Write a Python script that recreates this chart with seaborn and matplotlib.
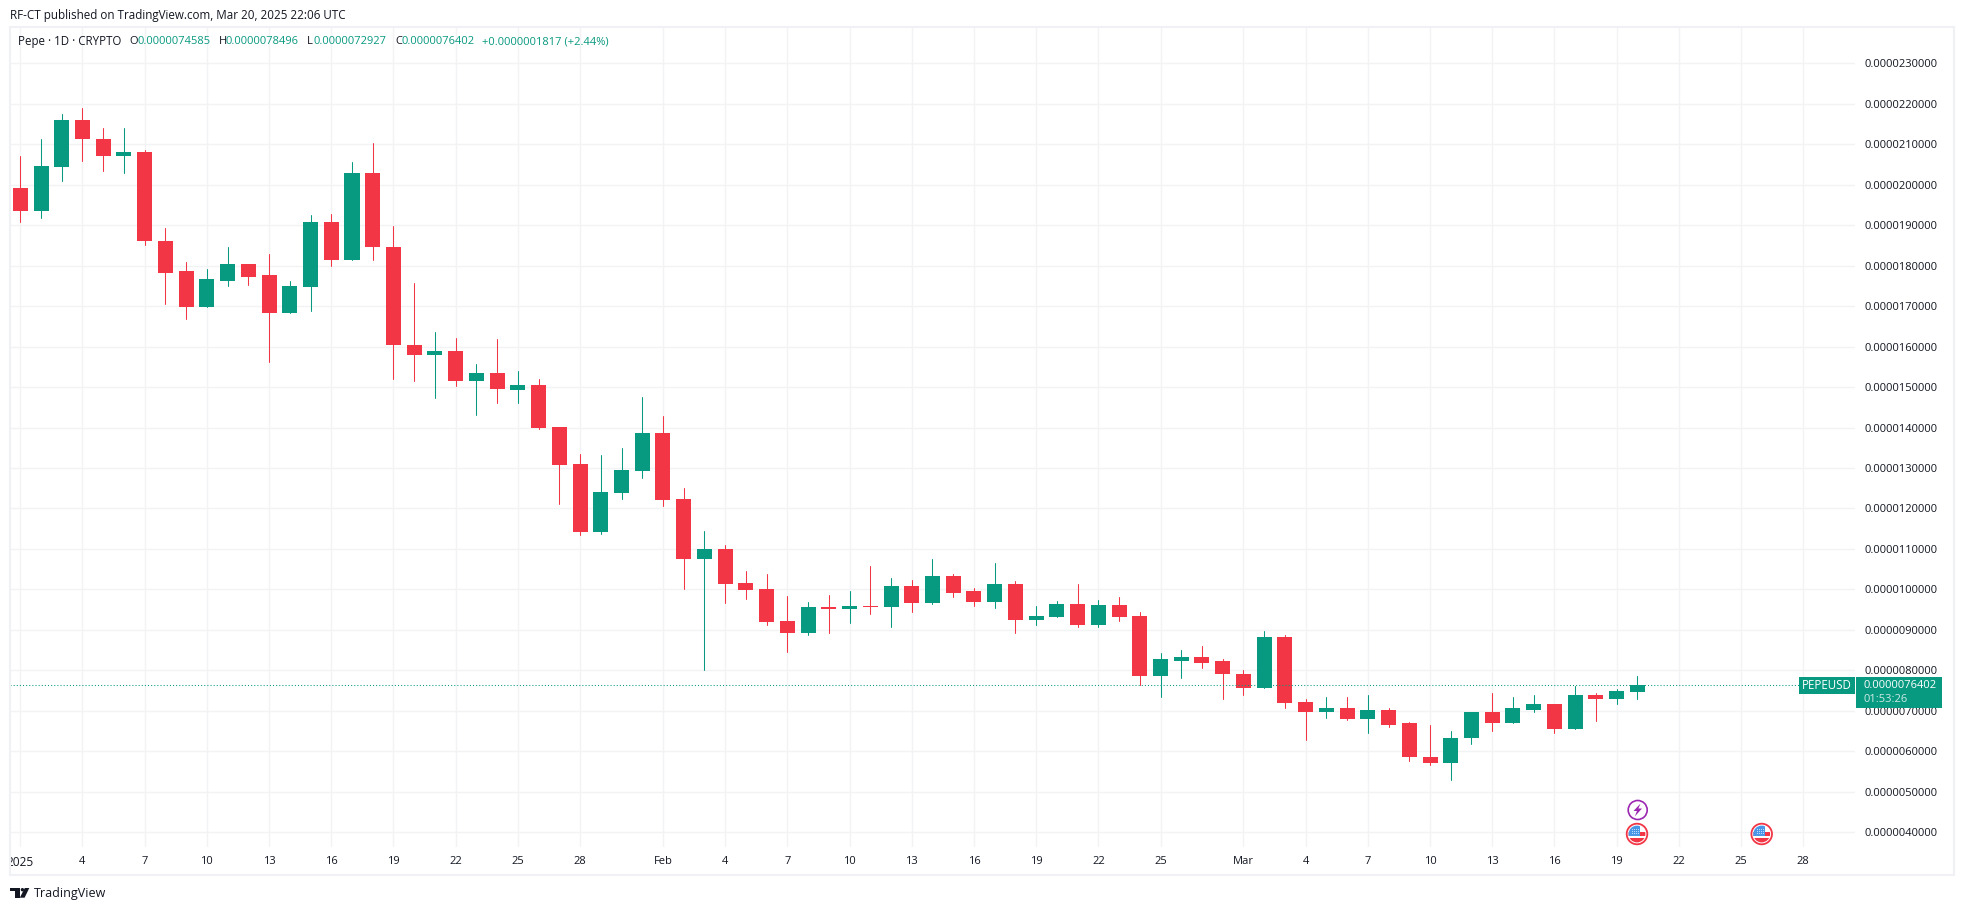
import numpy as np
import pandas as pd
import seaborn as sns
import matplotlib
matplotlib.use("Agg")
import matplotlib.pyplot as plt
from matplotlib.patches import Rectangle, Circle, Polygon

# Price values in units of 1e-6 (tick 23 = 0.0000230000), one per day from 1 Jan 2025
open_e6 = [19.93,19.34,20.43,21.59,21.14,20.70,20.80,18.62,17.86,16.99,17.63,18.03,17.76,16.84,17.46,19.07,18.13,20.30,18.47,16.05,
           15.78,15.90,15.14,15.34,14.93,15.06,14.02,13.10,11.42,12.39,12.93,13.87,12.24,10.76,11.00,10.16,10.02,9.22,8.93,9.57,
           9.52,9.60,9.57,10.09,9.67,10.32,9.95,9.70,10.14,9.25,9.33,9.65,9.11,9.62,9.35,7.87,8.24,8.32,8.22,7.92,
           7.57,8.83,7.23,6.98,7.08,6.81,7.01,6.69,5.87,5.70,6.32,6.96,6.69,7.03,7.16,6.56,7.40,7.28,7.4585]
close_e6 = [19.34,20.45,21.59,21.12,20.70,20.80,18.60,17.83,16.99,17.66,18.03,17.73,16.84,17.49,19.07,18.13,20.30,18.45,16.03,15.78,
            15.90,15.14,15.34,14.94,15.06,13.99,13.08,11.42,12.41,12.96,13.87,12.21,10.76,11.00,10.14,9.99,9.20,8.93,9.57,9.52,
            9.60,9.57,10.09,9.67,10.32,9.92,9.70,10.14,9.25,9.35,9.65,9.11,9.62,9.33,7.87,8.27,8.32,8.19,7.90,7.57,
            8.83,7.20,6.98,7.08,6.81,7.01,6.66,5.85,5.70,6.34,6.96,6.69,7.06,7.16,6.56,7.40,7.28,7.48,7.6402]
high_e6 = [20.72,21.14,21.74,21.89,21.39,21.39,20.85,18.92,18.10,17.91,18.47,18.05,18.28,17.63,19.24,19.27,20.55,21.04,18.99,17.56,
           16.37,16.20,15.58,16.18,15.40,15.20,14.02,13.35,13.33,13.50,14.76,14.29,12.51,11.45,11.10,10.46,10.39,9.84,9.69,9.87,
           9.97,10.58,10.27,10.24,10.76,10.39,10.04,10.66,10.22,9.58,9.72,10.14,9.75,9.82,9.43,8.44,8.51,8.59,8.27,8.02,
           8.96,8.88,7.28,7.35,7.35,7.38,7.06,6.73,6.66,6.51,6.98,7.45,7.35,7.38,7.18,7.62,7.43,7.55,7.8496]
low_e6 = [19.07,19.17,20.08,20.58,20.33,20.28,18.50,17.04,16.67,16.99,17.49,17.51,15.63,16.82,16.87,17.98,18.13,18.13,15.21,15.16,
          14.74,15.02,14.32,14.60,14.61,13.97,12.12,11.35,11.37,12.24,12.76,12.07,10.02,8.01,9.67,9.77,9.13,8.46,8.88,8.93,
          9.18,9.40,9.08,9.45,9.65,9.82,9.60,9.53,8.93,9.13,9.33,9.06,9.08,9.23,7.65,7.33,7.82,8.07,7.28,7.38,
          7.57,7.08,6.29,6.83,6.78,6.44,6.59,5.75,5.65,5.28,6.17,6.51,6.69,6.98,6.46,6.56,6.74,7.16,7.2927]
last_close_e6 = 7.6402

price_ticks = [4,5,6,7,8,9,10,11,12,13,14,15,16,17,18,19,20,21,22,23]
date_tick_days = [0,3,6,9,12,15,18,21,24,27,31,34,37,40,43,46,49,52,55,59,62,65,68,71,74,77,80,83,86]
date_tick_labels = ["2025","4","7","10","13","16","19","22","25","28","Feb","4","7","10","13","16","19","22","25",
                    "Mar","4","7","10","13","16","19","22","25","28"]

GREEN = "#089981"
RED = "#F23645"
GRID = "#f2f3f5"
FRAME = "#f0f1f4"
INK = "#131722"
W, H = 1963, 911
FONT = "Open Sans"

sns.set_theme(style="white")
plt.rcParams["font.family"] = [FONT, "DejaVu Sans"]

df = pd.DataFrame({"day": np.arange(len(open_e6)), "open": open_e6, "close": close_e6,
                   "high": high_e6, "low": low_e6})
df["direction"] = np.where(df["close"] >= df["open"], "up", "down")
df["bottom"] = df[["open", "close"]].min(axis=1)
df["body"] = (df["close"] - df["open"]).abs()

wicks = df.melt(id_vars=["day", "direction"], value_vars=["low", "high"], value_name="price").sort_values(["day", "price"])

fig = plt.figure(figsize=(W / 100, H / 100), dpi=100, facecolor="white")
ax = fig.add_axes([10 / W, (H - 847) / H, 1845 / W, 819 / H])
ax.set_facecolor("white")

sns.lineplot(data=wicks, x="day", y="price", hue="direction", units="day", estimator=None, sort=False,
             palette={"up": GREEN, "down": RED}, linewidth=0.75, legend=False, ax=ax, zorder=3)
for direction, colour in (("up", GREEN), ("down", RED)):
    part = df[df["direction"] == direction]
    sns.barplot(data=part, x="day", y="body", bottom=part["bottom"].to_numpy(), native_scale=True,
                color=colour, saturation=1, linewidth=0, width=0.7236, errorbar=None, ax=ax, zorder=4)

ax.axhline(last_close_e6, color=GREEN, lw=0.75, ls=(0, (1, 2)), zorder=5)

ax.set_xlim(-0.497, 88.5)
ax.set_ylim(3.635, 23.872)
ax.set_xlabel("")
ax.set_ylabel("")
ax.set_xticks(date_tick_days)
ax.set_xticklabels(date_tick_labels)
ax.set_yticks(price_ticks)
ax.set_yticklabels([f"{v * 1e-6:.10f}" for v in price_ticks])
ax.yaxis.tick_right()
ax.tick_params(axis="both", length=0, labelsize=8, labelcolor=INK)
ax.tick_params(axis="x", pad=6.5)
ax.tick_params(axis="y", pad=6.5)
ax.grid(True, color=GRID, lw=1.0)
ax.set_axisbelow(True)
for s in ax.spines.values():
    s.set_visible(False)
ax.get_xticklabels()[0].set_fontsize(8.6)

# Pixel-space overlay for the page furniture
ov = fig.add_axes([0, 0, 1, 1], zorder=10)
ov.set_xlim(0, W)
ov.set_ylim(H, 0)
ov.axis("off")
ov.patch.set_alpha(0)

ov.add_patch(Rectangle((0, 852), 9.5, 20, fc="white", ec="none"))
ov.add_patch(Rectangle((9.5, 27), 1944, 848, fc="none", ec=FRAME, lw=1.5))

ov.text(10, 15, "RF-CT published on TradingView.com, Mar 20, 2025 22:06 UTC", fontsize=8.4, color=INK, va="center")

seq = [(18, "Pepe · 1D · CRYPTO", INK, 8.3), (129.5, "O", INK, 8), (137.5, "0.0000074585", GREEN, 8), (219, "H", INK, 8),
       (226, "0.0000078496", GREEN, 8), (307, "L", INK, 8), (313, "0.0000072927", GREEN, 8), (395, "C", INK, 8),
       (402, "0.0000076402", GREEN, 8), (482, "+0.0000001817 (+2.44%)", GREEN, 8)]
for x, s, c, fs in seq:
    ov.text(x, 42, s, fontsize=fs, color=c, va="center")

# Current-price labels
ov.add_patch(Rectangle((1798.5, 677), 56, 16.7, fc=GREEN, ec="none"))
ov.add_patch(Rectangle((1856, 677), 86, 30.7, fc=GREEN, ec="none"))
ov.text(1826.5, 685.5, "PEPEUSD", fontsize=8.3, color="white", va="center", ha="center")
ov.text(1864, 685.5, "0.0000076402", fontsize=8, color="white", va="center")
ov.text(1864, 699.3, "01:53:26", fontsize=8, color="#cfeae5", va="center")

# Purple lightning marker
ov.add_patch(Circle((1637.7, 810), 9.5, fc="white", ec="#9c27b0", lw=1.2))
ov.add_patch(Polygon([(1640.5, 803.5), (1633.5, 811), (1637, 811), (1634.8, 816.5), (1642, 808.5), (1638.4, 808.5)],
                     fc="#9c27b0", ec="none"))

# US flag markers
def flag(cx, cy):
    ov.add_patch(Circle((cx, cy), 10.3, fc="white", ec=RED, lw=1.3))
    clip = Circle((cx, cy), 8.4, transform=ov.transData)
    for (x0, y0, w, h, c) in [(-9, -2, 18, 4, RED), (-9, 4.2, 18, 5, RED), (-9, -9, 12, 11, "#4a97e8")]:
        p = Rectangle((cx + x0, cy + y0), w, h, fc=c, ec="none")
        ov.add_patch(p)
        p.set_clip_path(clip)
    for dx in (-5, -3, -1, 1):
        for dy in (-5, -3, -1):
            ov.add_patch(Rectangle((cx + dx, cy + dy), 0.8, 0.8, fc="#bcdcfa", ec="none"))

flag(1637, 834)
flag(1761.7, 834)

# TradingView logo and wordmark
ov.add_patch(Polygon([(10, 888), (20, 888), (20, 897.7), (15, 897.7), (15, 891.3), (10, 891.3)], fc=INK, ec="none"))
ov.add_patch(Circle((22.4, 889.7), 1.7, fc=INK, ec="none"))
ov.add_patch(Polygon([(24.8, 888), (29.3, 888), (24.6, 897.7), (19.8, 897.7)], fc=INK, ec="none"))
ov.text(34, 893.5, "TradingView", fontsize=9, color=INK, va="center")

fig.savefig("out.png", dpi=100, facecolor="white")
